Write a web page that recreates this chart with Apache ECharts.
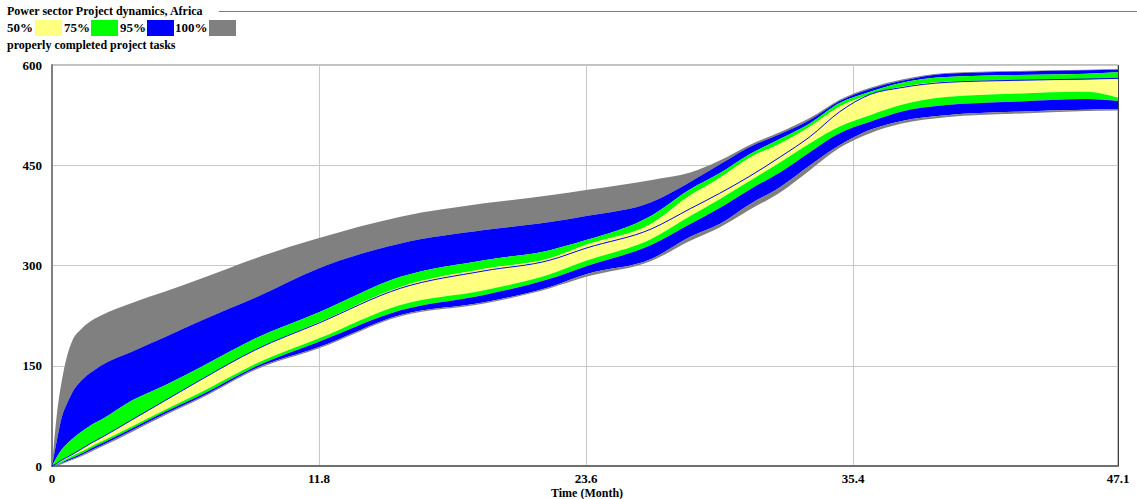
<!DOCTYPE html>
<html>
<head>
<meta charset="utf-8">
<script src="https://cdn.jsdelivr.net/npm/echarts@6/dist/echarts.min.js"></script>
<style>
html,body{margin:0;padding:0;background:#fff;}
#c{width:1137px;height:499px;}
</style>
</head>
<body>
<div id="c"></div>
<script>
// Time (Month)
const times = [0, 0.22, 0.44, 0.66, 0.88, 1.33, 1.77, 2.21, 3.53, 5.0, 6.63, 9.0, 11.8, 15.4, 19.1, 22.0, 23.6, 26.5, 28.2, 29.5, 30.8, 32.2, 33.5, 34.8, 36.15, 37.5, 39.5, 42.5, 45.7, 47.1];
// sensitivity envelope (properly completed project tasks)
const pMax = [0, 79, 129, 164, 186, 206, 218, 226, 244, 261, 281, 311, 341, 373, 393, 405, 413, 428, 439, 457, 480, 500, 521, 548, 566, 578, 588, 591, 593, 594];
const p975 = [0, 39, 74, 93, 109, 129, 141, 151, 171, 193, 218, 252, 296, 333, 353, 365, 374, 395, 425, 451, 477, 497, 518, 546, 564, 576, 587, 590, 592, 593];
const p875 = [0, 14, 25, 33, 40, 52, 62, 70, 98, 121, 149, 191, 230, 283, 308, 323, 338, 375, 414, 438, 466, 490, 513, 543, 560, 573, 582, 585, 587, 589];
const p75  = [0, 4, 9, 13, 17, 26, 35, 43, 69, 98, 130, 174, 215, 268, 295, 311, 331, 363, 405, 431, 461, 483, 508, 538, 556, 567, 575, 577, 578, 579];
const p25  = [0, 3, 7, 11, 15, 22, 30, 37, 59, 84, 111, 153, 191, 241, 263, 287, 307, 340, 374, 399, 426, 455, 483, 508, 525, 540, 552, 557, 560, 551];
const p125 = [0, 2, 5, 9, 12, 19, 27, 34, 56, 81, 107, 149, 186, 233, 256, 280, 299, 331, 362, 386, 413, 440, 470, 498, 515, 530, 540, 545, 549, 546];
const p025 = [0, 1, 4, 7, 10, 17, 24, 31, 53, 78, 104, 146, 178, 226, 245, 268, 287, 310, 343, 362, 391, 418, 450, 480, 503, 516, 525, 530, 533, 534];
const pMin = [0, 0.5, 3, 6, 9, 15, 22, 29, 51, 76, 102, 144, 176, 224, 243, 266, 283, 307, 337, 357, 383, 410, 443, 476, 498, 512, 522, 527, 531, 532];
// base run
const baseRun = [0, 4, 9, 13, 17, 26, 35, 43, 69, 98, 130, 174, 214, 266, 292, 308, 326, 355, 385, 408, 433, 463, 493, 530, 556, 566, 574, 577, 579, 580];

const xTicks = [0, 11.8, 23.6, 35.4, 47.1];
const yTicks = [0, 150, 300, 450, 600];
const legendItems = ['50%', '75%', '95%', '100%'];

const GRAY = '#808080', BLUE = '#0000ff', GREEN = '#00ff00', YELLOW = '#ffff80';
const FONT = '"Liberation Serif", "Times New Roman", serif';

// monotone cubic (in x) bezier segments through pixel points
function tangents(P) {
  const n = P.length, t = new Array(n).fill(0);
  for (let i = 1; i < n - 1; i++) {
    const h0 = P[i][0] - P[i-1][0], h1 = P[i+1][0] - P[i][0];
    const s0 = (P[i][1] - P[i-1][1]) / h0, s1 = (P[i+1][1] - P[i][1]) / h1;
    const p = (s0 * h1 + s1 * h0) / (h0 + h1);
    t[i] = (Math.sign(s0) + Math.sign(s1)) * Math.min(Math.abs(s0), Math.abs(s1), 0.5 * Math.abs(p)) || 0;
  }
  const h = P[1][0] - P[0][0];
  t[0] = (3 * (P[1][1] - P[0][1]) / h - t[1]) / 2;
  const hn = P[n-1][0] - P[n-2][0];
  t[n-1] = (3 * (P[n-1][1] - P[n-2][1]) / hn - t[n-2]) / 2;
  return t;
}
function segs(P, forward) {
  const t = tangents(P), out = [];
  for (let i = 0; i < P.length - 1; i++) {
    const dx = P[i+1][0] - P[i][0];
    out.push([P[i], [P[i][0] + dx/3, P[i][1] + dx*t[i]/3], [P[i+1][0] - dx/3, P[i+1][1] - dx*t[i+1]/3], P[i+1]]);
  }
  if (forward) return out;
  return out.reverse().map(s => [s[3], s[2], s[1], s[0]]);
}
function f(v) { return v.toFixed(2); }
function curvePath(P, forward, start) {
  const S = segs(P, forward);
  let d = (start ? 'M' : 'L') + f(S[0][0][0]) + ' ' + f(S[0][0][1]);
  S.forEach(s => { d += ' C' + f(s[1][0]) + ' ' + f(s[1][1]) + ' ' + f(s[2][0]) + ' ' + f(s[2][1]) + ' ' + f(s[3][0]) + ' ' + f(s[3][1]); });
  return d;
}

function bandSeries(upper, lower, color) {
  return {
    type: 'custom', data: [[0, 0]], silent: true,
    renderItem: function (params, api) {
      const U = times.map((t, i) => api.coord([t, upper[i]]));
      const L = times.map((t, i) => api.coord([t, lower[i]]));
      const d = curvePath(U, true, true) + ' ' + curvePath(L, false, false) + ' Z';
      return { type: 'path', shape: { pathData: d }, style: { fill: color, stroke: null } };
    }
  };
}
function lineSeries(vals, color) {
  return {
    type: 'custom', data: [[0, 0]], silent: true, z: 5,
    renderItem: function (params, api) {
      const P = times.map((t, i) => api.coord([t, vals[i]]));
      return { type: 'path', shape: { pathData: curvePath(P, true, true) }, style: { fill: null, stroke: color, lineWidth: 1 } };
    }
  };
}

const series = [
  bandSeries(pMax, p975, GRAY),
  bandSeries(p975, p875, BLUE),
  bandSeries(p875, p75, GREEN),
  bandSeries(p75, p25, YELLOW),
  bandSeries(p25, p125, GREEN),
  bandSeries(p125, p025, BLUE),
  bandSeries(p025, pMin, GRAY),
  lineSeries(baseRun, BLUE)
];

const legendColors = [YELLOW, GREEN, BLUE, GRAY];
const legendTextX = [7, 64, 120, 175];
const legendRectX = [35, 91, 147, 209];
const graphic = [
  { type: 'text', left: 7, top: 5, style: { text: 'Power sector Project dynamics, Africa', font: 'bold 12px ' + FONT, fill: '#000' } },
  { type: 'line', shape: { x1: 219, y1: 11.5, x2: 1137, y2: 11.5 }, style: { stroke: '#6a6aff', lineWidth: 1 } },
  { type: 'text', left: 7, top: 39, style: { text: 'properly completed project tasks', font: 'bold 12px ' + FONT, fill: '#000' } },
  { type: 'text', x: 587, y: 493, style: { text: 'Time (Month)', font: 'bold 12px ' + FONT, fill: '#000', textAlign: 'center', textVerticalAlign: 'middle' } },
  { type: 'line', shape: { x1: 1118.5, y1: 65, x2: 1118.5, y2: 466 }, style: { stroke: '#404040', lineWidth: 1 }, z: 10 }
];
legendItems.forEach((name, i) => {
  graphic.push({ type: 'text', left: legendTextX[i], top: 21, style: { text: name, font: 'bold 13px ' + FONT, fill: '#000' } });
  graphic.push({ type: 'rect', shape: { x: legendRectX[i], y: 20, width: 27, height: 16 }, style: { fill: legendColors[i] } });
});

const chart = echarts.init(document.getElementById('c'), null, { renderer: 'svg' });
chart.setOption({
  animation: false,
  backgroundColor: '#fff',
  grid: { left: 52, right: 19, top: 65, bottom: 33, containLabel: false, outerBoundsMode: 'none',
          show: true, borderColor: '#808080', borderWidth: 1, backgroundColor: 'transparent' },
  xAxis: {
    type: 'value', min: 0, max: 47.1, interval: 11.8,
    axisLine: { show: true, lineStyle: { color: '#707070', width: 2 } },
    axisTick: { show: false },
    axisLabel: { color: '#000', fontFamily: FONT, fontWeight: 'bold', fontSize: 13, margin: 6,
      formatter: v => { const m = xTicks.find(t => Math.abs(t - v) < 0.01); return m === undefined ? '' : String(m); } },
    splitLine: { show: true, lineStyle: { color: '#c8c8c8', width: 1 } }
  },
  yAxis: {
    type: 'value', min: 0, max: 600, interval: 150,
    axisLine: { show: true, lineStyle: { color: '#808080', width: 2 } },
    axisTick: { show: false },
    axisLabel: { color: '#000', fontFamily: FONT, fontWeight: 'bold', fontSize: 13, margin: 10,
      formatter: v => yTicks.indexOf(v) >= 0 ? String(v) : '' },
    splitLine: { show: true, lineStyle: { color: '#c8c8c8', width: 1 } }
  },
  graphic: graphic,
  series: series
});
</script>
</body>
</html>
